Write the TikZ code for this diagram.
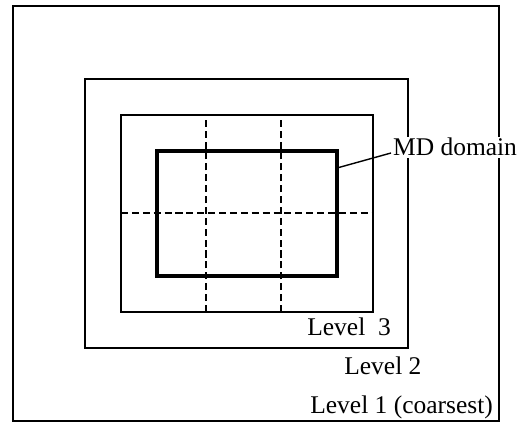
\documentclass[tikz,border=0pt]{standalone}
\usepackage{fontspec}
\setmainfont{Liberation Serif}
\usepackage{tikz}
\usetikzlibrary{calc}

\tikzset{
  levelbox/.style={draw=black, line width=0.9pt},
  mdbox/.style={draw=black, line width=2.2pt},
  subgrid/.style={draw=black, line width=0.75pt, dash pattern=on 4pt off 2.2pt},
  levellabel/.style={anchor=base west, inner sep=0pt, font=\fontsize{14.5}{17}\selectfont}
}

\begin{document}
\begin{tikzpicture}[x=0.2mm, y=0.2mm]
  \useasboundingbox (0,0) rectangle (527,422);

  % nested refinement levels
  \draw[levelbox] (13,1) rectangle (499,416);
  \draw[levelbox] (85,74) rectangle (408,343);
  \draw[levelbox] (121,110) rectangle (373,307);

  % subdivision of level 3
  \draw[subgrid] (206,110) -- (206,307);
  \draw[subgrid] (281,110) -- (281,307);
  \draw[subgrid] (121,209) -- (373,209);

  % MD domain
  \draw[mdbox] (157,146) rectangle (337,271);
  \coordinate (mdedge) at (337,254);

  % labels
  \node[levellabel, fill=white, inner sep=1pt] (mdlbl) at (391,266) {MD domain};
  \draw[line width=0.8pt] (mdedge) -- ($(mdlbl.base west)+(0,3)$);

  \node[levellabel] (lvlthree) at (307,86) {Level\ \ 3};
  \node[levellabel] (lvltwo) at (344,47) {Level 2};
  \node[levellabel] (lvlone) at (310,8) {Level 1 (coarsest)};
\end{tikzpicture}
\end{document}
